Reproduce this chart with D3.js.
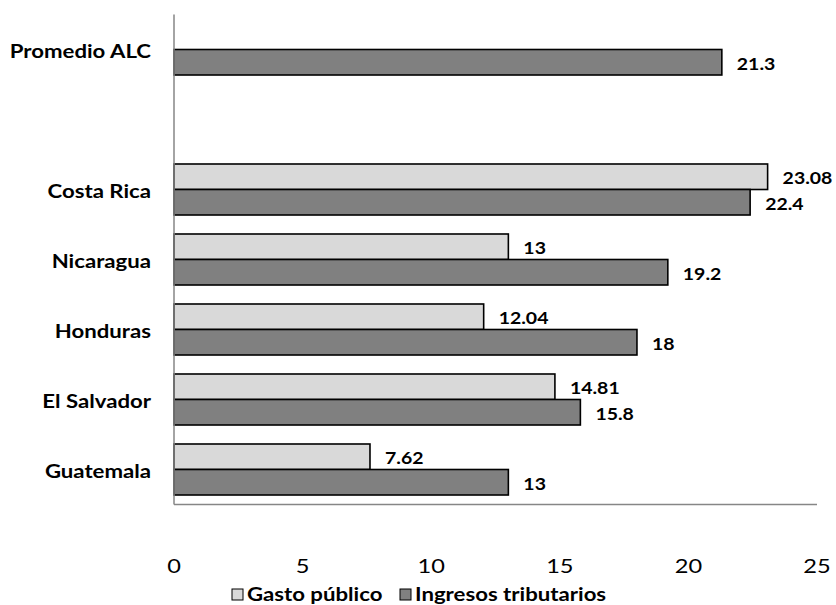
<!DOCTYPE html>
<html>
<head>
<meta charset="utf-8">
<script src="https://cdn.jsdelivr.net/npm/d3@7"></script>
<style>
  html, body { margin: 0; padding: 0; background: #fff; }
  svg text { font-family: "Lato", "Open Sans", sans-serif; fill: #000; }
</style>
</head>
<body>
<svg id="chart" width="836" height="605"></svg>
<script>
// Categories from bottom to top; the empty entry leaves a gap before the regional average
const categories = ["Guatemala", "El Salvador", "Honduras", "Nicaragua", "Costa Rica", "", "Promedio ALC"];
const gastoPublico = [7.62, 14.81, 12.04, 13, 23.08, null, null];
const ingresosTributarios = [13, 15.8, 18, 19.2, 22.4, null, 21.3];
const seriesNames = ["Gasto público", "Ingresos tributarios"];
const xTicks = [0, 5, 10, 15, 20, 25];

const colors = { "Gasto público": "#d9d9d9", "Ingresos tributarios": "#808080" };
const textStretch = 1.18;

const svg = d3.select("#chart");
const plot = { left: 174, right: 817, top: 14.5, bottom: 504.5 };

const x = d3.scaleLinear().domain([0, 25]).range([plot.left, plot.right]);
const y = d3.scaleBand()
  .domain(categories.slice().reverse())
  .range([plot.top, plot.bottom])
  .paddingInner(0.2714)
  .paddingOuter(0.1357);
const ySub = d3.scaleBand().domain(seriesNames).range([0, y.bandwidth()]);

const rows = categories.map((c, i) => ({
  cat: c,
  values: [
    { series: seriesNames[0], v: gastoPublico[i] },
    { series: seriesNames[1], v: ingresosTributarios[i] }
  ].filter(d => d.v != null)
}));

// Places a text with a slight horizontal stretch around its anchor point
function placeText(sel, fx, fy) {
  sel.attr("transform", (d, i) => `translate(${fx(d, i)},${fy(d, i)}) scale(${textStretch},1)`);
}

// Bars
const groups = svg.append("g").selectAll("g.cat")
  .data(rows.filter(r => r.values.length))
  .join("g")
  .attr("class", "cat")
  .attr("transform", d => `translate(0,${y(d.cat)})`);

groups.selectAll("rect")
  .data(d => d.values)
  .join("rect")
  .attr("x", x(0))
  .attr("y", d => ySub(d.series))
  .attr("width", d => x(d.v) - x(0))
  .attr("height", ySub.bandwidth())
  .attr("fill", d => colors[d.series])
  .attr("stroke", "#000")
  .attr("stroke-width", 1.6);

// Value labels
groups.selectAll("text.val")
  .data(d => d.values)
  .join("text")
  .attr("class", "val")
  .attr("font-size", 16.5)
  .attr("font-weight", 700)
  .attr("dominant-baseline", "central")
  .text(d => d.v)
  .call(placeText, d => x(d.v) + 15, d => ySub(d.series) + ySub.bandwidth() / 2 + 1);

// Axis lines
svg.append("line")
  .attr("x1", x(0)).attr("x2", x(0))
  .attr("y1", plot.top).attr("y2", plot.bottom)
  .attr("stroke", "#868686").attr("stroke-width", 1.5);
svg.append("line")
  .attr("x1", x(0)).attr("x2", plot.right)
  .attr("y1", plot.bottom).attr("y2", plot.bottom)
  .attr("stroke", "#868686").attr("stroke-width", 1.5);

// Category labels
svg.append("g").selectAll("text")
  .data(categories.filter(c => c))
  .join("text")
  .attr("text-anchor", "end")
  .attr("dominant-baseline", "central")
  .attr("font-size", 18.8)
  .attr("font-weight", 700)
  .text(d => d)
  .call(placeText, () => 151, d => y(d) + y.bandwidth() / 2 + 1);

// X tick labels
svg.append("g").selectAll("text")
  .data(xTicks)
  .join("text")
  .attr("text-anchor", "middle")
  .attr("font-size", 20)
  .text(d => d)
  .call(placeText, d => x(d), () => 573);

// Legend
const legendItems = [
  { name: seriesNames[0], sx: 232, tx: 247 },
  { name: seriesNames[1], sx: 400, tx: 415 }
];
const leg = svg.append("g");
leg.selectAll("rect")
  .data(legendItems)
  .join("rect")
  .attr("x", d => d.sx).attr("y", 589)
  .attr("width", 11).attr("height", 11)
  .attr("fill", d => colors[d.name])
  .attr("stroke", "#000").attr("stroke-width", 1);
leg.selectAll("text")
  .data(legendItems)
  .join("text")
  .attr("font-size", 18.8)
  .attr("font-weight", 700)
  .text(d => d.name)
  .call(placeText, d => d.tx, () => 601);
</script>
</body>
</html>
